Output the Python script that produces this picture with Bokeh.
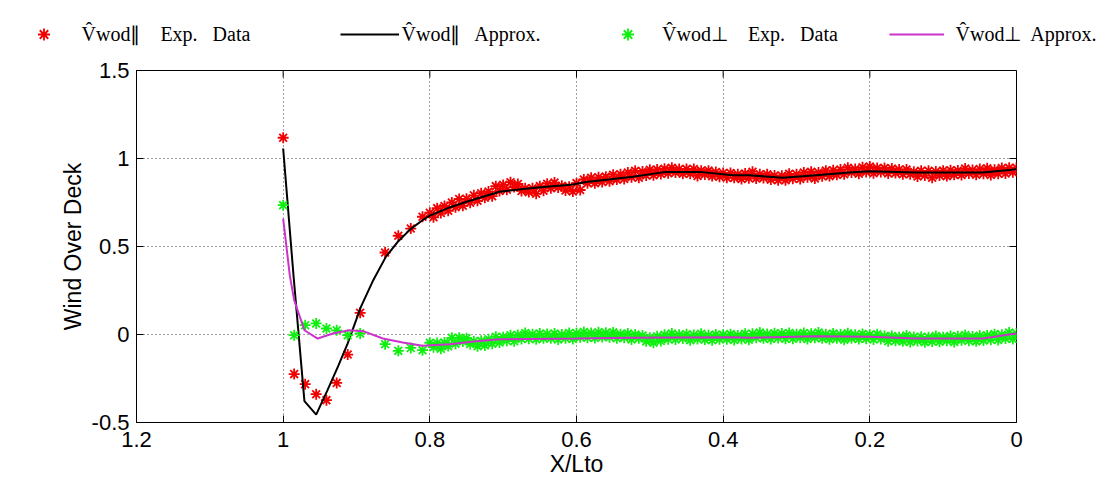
import math
from bokeh.plotting import figure
from bokeh.layouts import column
from bokeh.models import Range1d, FixedTicker, Legend, LegendItem, NumeralTickFormatter
from bokeh.embed import file_html
from bokeh.resources import INLINE

# ---------------- data ----------------
x_ticks = [1.2, 1.0, 0.8, 0.6, 0.4, 0.2, 0.0]
y_ticks = [-0.5, 0.0, 0.5, 1.0, 1.5]

# sparse experimental samples near the bow
sparse_x = [1.0, 0.985, 0.970, 0.955, 0.941, 0.927, 0.912, 0.895, 0.861, 0.843, 0.826, 0.810]
par_sparse_y = [1.118, -0.225, -0.282, -0.339, -0.373, -0.275, -0.114, 0.123, 0.466, 0.561, 0.602, 0.669]
perp_sparse_y = [0.735, -0.004, 0.053, 0.063, 0.034, 0.024, -0.004, 0.006, -0.055, -0.093, -0.076, -0.089]

# dense experimental samples (upper and lower edge of the scatter band)
dense_x = [0.80, 0.79, 0.78, 0.77, 0.76, 0.75, 0.74, 0.73, 0.72, 0.71,
           0.70, 0.69, 0.68, 0.67, 0.66, 0.65, 0.64, 0.63, 0.62, 0.61,
           0.60, 0.59, 0.58, 0.57, 0.56, 0.55, 0.54, 0.53, 0.52, 0.51,
           0.50, 0.49, 0.48, 0.47, 0.46, 0.45, 0.44, 0.43, 0.42, 0.41,
           0.40, 0.39, 0.38, 0.37, 0.36, 0.35, 0.34, 0.33, 0.32, 0.31,
           0.30, 0.29, 0.28, 0.27, 0.26, 0.25, 0.24, 0.23, 0.22, 0.21,
           0.20, 0.19, 0.18, 0.17, 0.16, 0.15, 0.14, 0.13, 0.12, 0.11,
           0.10, 0.09, 0.08, 0.07, 0.06, 0.05, 0.04, 0.03, 0.02, 0.01, 0.00]
par_hi = [0.692, 0.718, 0.730, 0.750, 0.770, 0.771, 0.791, 0.803, 0.812, 0.843,
          0.850, 0.865, 0.855, 0.831, 0.831, 0.843, 0.857, 0.863, 0.845, 0.840,
          0.860, 0.881, 0.891, 0.893, 0.897, 0.908, 0.910, 0.920, 0.930, 0.926,
          0.936, 0.938, 0.942, 0.948, 0.940, 0.940, 0.940, 0.931, 0.931, 0.923,
          0.917, 0.918, 0.910, 0.915, 0.925, 0.911, 0.911, 0.903, 0.902, 0.913,
          0.910, 0.920, 0.925, 0.921, 0.931, 0.933, 0.937, 0.948, 0.940, 0.950,
          0.955, 0.946, 0.946, 0.943, 0.937, 0.938, 0.925, 0.930, 0.930, 0.926,
          0.931, 0.933, 0.932, 0.943, 0.935, 0.940, 0.945, 0.936, 0.946, 0.948, 0.947]
par_lo = [0.666, 0.690, 0.703, 0.723, 0.731, 0.749, 0.760, 0.777, 0.786, 0.815,
          0.823, 0.838, 0.816, 0.809, 0.800, 0.817, 0.831, 0.835, 0.818, 0.813,
          0.821, 0.859, 0.860, 0.867, 0.871, 0.880, 0.883, 0.893, 0.891, 0.904,
          0.905, 0.912, 0.916, 0.920, 0.913, 0.913, 0.901, 0.909, 0.900, 0.897,
          0.891, 0.890, 0.883, 0.888, 0.886, 0.889, 0.880, 0.877, 0.876, 0.885,
          0.883, 0.893, 0.886, 0.899, 0.900, 0.907, 0.911, 0.920, 0.913, 0.923,
          0.916, 0.924, 0.915, 0.917, 0.911, 0.910, 0.898, 0.903, 0.891, 0.904,
          0.900, 0.907, 0.906, 0.915, 0.908, 0.913, 0.906, 0.914, 0.915, 0.922, 0.921]
perp_hi = [-0.047, -0.048, -0.045, -0.019, -0.018, -0.021, -0.039, -0.035, -0.027, -0.013,
           -0.015, -0.004, -0.003, 0.009, 0.001, 0.005, 0.003, 0.005, 0.000, 0.008,
           0.007, 0.014, 0.008, 0.013, 0.010, 0.012, 0.002, 0.006, 0.000, -0.006,
           -0.019, -0.010, -0.002, 0.005, -0.002, 0.001, -0.003, 0.004, -0.004, 0.000,
           -0.002, 0.002, -0.005, 0.004, 0.004, 0.011, 0.003, 0.007, 0.005, 0.009,
           0.002, 0.008, 0.004, 0.011, 0.001, 0.005, 0.000, 0.007, -0.001, 0.003,
           -0.002, 0.001, -0.008, -0.008, -0.015, -0.006, -0.014, -0.013, -0.016, -0.008,
           -0.015, -0.009, -0.010, -0.003, -0.011, -0.007, -0.005, 0.002, -0.002, 0.011, 0.006]
perp_lo = [-0.072, -0.081, -0.066, -0.053, -0.040, -0.054, -0.067, -0.062, -0.052, -0.046,
           -0.036, -0.038, -0.025, -0.024, -0.027, -0.022, -0.022, -0.028, -0.021, -0.026,
           -0.015, -0.019, -0.020, -0.014, -0.015, -0.021, -0.019, -0.028, -0.022, -0.039,
           -0.047, -0.037, -0.027, -0.028, -0.023, -0.033, -0.025, -0.029, -0.032, -0.027,
           -0.027, -0.031, -0.026, -0.030, -0.018, -0.022, -0.025, -0.020, -0.024, -0.024,
           -0.019, -0.026, -0.018, -0.022, -0.027, -0.022, -0.030, -0.022, -0.026, -0.024,
           -0.028, -0.026, -0.038, -0.035, -0.039, -0.042, -0.037, -0.044, -0.040, -0.041,
           -0.036, -0.043, -0.032, -0.036, -0.039, -0.034, -0.030, -0.031, -0.023, -0.026, -0.022]

# approximations
par_fit_x = [1.000, 0.986, 0.971, 0.955, 0.940, 0.925, 0.912, 0.894, 0.877, 0.860, 0.843,
             0.826, 0.810, 0.800, 0.773, 0.750, 0.705, 0.660, 0.605, 0.587, 0.523, 0.478,
             0.432, 0.387, 0.364, 0.319, 0.273, 0.228, 0.200, 0.137, 0.091, 0.046, 0.010, 0.000]
par_fit_y = [1.057, 0.340, -0.379, -0.455, -0.320, -0.180, -0.050, 0.157, 0.310, 0.441, 0.530,
             0.600, 0.649, 0.675, 0.722, 0.754, 0.811, 0.833, 0.852, 0.867, 0.896, 0.924,
             0.924, 0.905, 0.905, 0.890, 0.905, 0.920, 0.928, 0.920, 0.920, 0.920, 0.934, 0.940]
perp_fit_x = [1.000, 0.991, 0.985, 0.971, 0.953, 0.932, 0.910, 0.891, 0.864, 0.837, 0.810,
              0.773, 0.740, 0.705, 0.600, 0.524, 0.387, 0.364, 0.273, 0.200, 0.137, 0.046,
              0.010, 0.000]
perp_fit_y = [0.659, 0.337, 0.195, 0.024, -0.023, 0.006, 0.024, 0.019, -0.023, -0.045, -0.064,
              -0.055, -0.040, -0.027, -0.023, -0.019, -0.015, -0.019, -0.010, -0.013, -0.023, -0.023,
              0.000, 0.006]

legend_labels = ["V\u0302wod\u2225    Exp.   Data", "V\u0302wod\u2225   Approx.",
                 "V\u0302wod\u22a5    Exp.   Data", "V\u0302wod\u22a5  Approx."]

RED = "#f00000"
GREEN = "#10f010"
MAGENTA = "#cc33cc"
FONT = "Liberation Sans"
X0, X1 = 1.2, 0.0
Y0, Y1 = -0.5, 1.5
MS = 11
LW = 1.8

# ---------------- main figure ----------------
p = figure(width=1100, height=433,
           x_range=Range1d(X0, X1), y_range=Range1d(Y0, Y1),
           output_backend="svg", toolbar_location=None,
           min_border_left=136, min_border_right=84, min_border_top=20, min_border_bottom=61,
           background_fill_color="white", border_fill_color="white")
p.frame_align = False
p.outline_line_color = "black"
p.outline_line_width = 1

xt = FixedTicker(ticks=x_ticks)
yt = FixedTicker(ticks=y_ticks)
fmt = NumeralTickFormatter(format="0.[0]")

for ax, tk in ((p.xaxis[0], xt), (p.yaxis[0], yt)):
    ax.ticker = tk
    ax.formatter = fmt
    ax.major_tick_in = 7
    ax.major_tick_out = 0
    ax.minor_tick_in = 0
    ax.minor_tick_out = 0
    ax.axis_line_color = "black"
    ax.major_tick_line_color = "black"
    ax.major_label_text_font = FONT
    ax.major_label_text_font_size = "22px"
    ax.major_label_text_color = "black"
    ax.axis_label_text_font = FONT
    ax.axis_label_text_font_size = "23px"
    ax.axis_label_text_font_style = "normal"
    ax.axis_label_text_color = "black"

p.xaxis.axis_label = "X/Lto"
p.yaxis.axis_label = "Wind Over Deck"
p.xaxis.major_label_standoff = 9
p.xaxis.axis_label_standoff = 1
p.yaxis.major_label_standoff = 7
p.yaxis.axis_label_standoff = 3

p.xgrid.ticker = xt
p.ygrid.ticker = yt
for g in (p.xgrid, p.ygrid):
    g.grid_line_color = "#444444"
    g.grid_line_dash = "1 3"
    g.grid_line_width = 1

# inward ticks on the top and right edges of the box
p.ray(x=x_ticks, y=[Y1] * len(x_ticks), length=7, length_units="screen",
      angle=-math.pi / 2, line_color="black", line_width=1)
p.ray(x=[X1] * len(y_ticks), y=y_ticks, length=7, length_units="screen",
      angle=math.pi, line_color="black", line_width=1)

dense_x_mid = [x - 0.005 for x in dense_x]
p.scatter(sparse_x, par_sparse_y, marker="asterisk", size=MS, line_color=RED, line_width=LW)
p.scatter(dense_x, par_hi, marker="asterisk", size=MS, line_color=RED, line_width=LW)
p.scatter(dense_x_mid, par_lo, marker="asterisk", size=MS, line_color=RED, line_width=LW)
p.line(par_fit_x, par_fit_y, line_color="black", line_width=2)

p.scatter(sparse_x, perp_sparse_y, marker="asterisk", size=MS, line_color=GREEN, line_width=LW)
p.scatter(dense_x, perp_hi, marker="asterisk", size=MS, line_color=GREEN, line_width=LW)
p.scatter(dense_x_mid, perp_lo, marker="asterisk", size=MS, line_color=GREEN, line_width=LW)
p.line(perp_fit_x, perp_fit_y, line_color=MAGENTA, line_width=2)

# ---------------- legend strip above the plot ----------------
# its ranges keep the key renderers' single reference points out of view
lg = figure(width=1110, height=50, x_range=Range1d(10, 20), y_range=Range1d(10, 20),
            x_axis_type=None, y_axis_type=None,
            output_backend="svg", toolbar_location=None,
            min_border_left=0, min_border_right=0, min_border_top=0, min_border_bottom=0,
            background_fill_color="white", border_fill_color="white")
lg.frame_align = False
lg.grid.visible = False
lg.outline_line_color = None

k1 = lg.scatter(sparse_x[:1], par_sparse_y[:1], marker="asterisk", size=MS, line_color=RED, line_width=LW)
k2 = lg.line(par_fit_x[:1], par_fit_y[:1], line_color="black", line_width=2)
k3 = lg.scatter(sparse_x[:1], perp_sparse_y[:1], marker="asterisk", size=MS, line_color=GREEN, line_width=LW)
k4 = lg.line(perp_fit_x[:1], perp_fit_y[:1], line_color=MAGENTA, line_width=2)

specs = [(k1, legend_labels[0], 15.5, 55, 11),
         (k2, legend_labels[1], 339.5, 59, 3),
         (k3, legend_labels[2], 600, 55, 7),
         (k4, legend_labels[3], 888.5, 55, 12)]
for rend, lab, vx, gw, so in specs:
    leg = Legend(items=[LegendItem(label=lab, renderers=[rend])],
                 location=(vx, 1), orientation="horizontal",
                 glyph_width=gw, glyph_height=30, label_height=30, label_standoff=so,
                 padding=0, margin=0, spacing=0,
                 border_line_color=None, background_fill_alpha=0,
                 label_text_font="Liberation Serif", label_text_font_size="20px",
                 label_text_color="black")
    lg.add_layout(leg, "center")

page = column(lg, p, spacing=0)
open("out.html", "w").write(file_html(page, INLINE))
